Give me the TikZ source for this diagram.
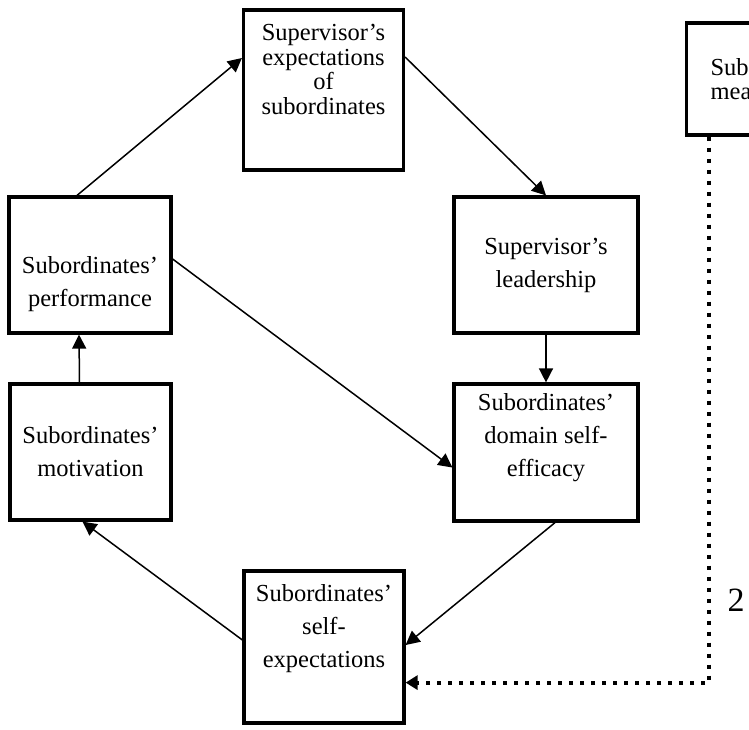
\documentclass[tikz,border=0pt]{standalone}
\usepackage{fontspec}
\setmainfont{Liberation Serif}
\usetikzlibrary{arrows.meta}

\begin{document}
\begin{tikzpicture}[x=1pt, y=-1pt,
	box/.style={draw, line width=3.2pt, align=center, inner sep=0pt, font=\fontsize{24.5}{33}\selectfont},
	link/.style={line width=1.5pt, -{Triangle[length=14pt, width=14pt]}},
	dotlink/.style={line width=4pt, dash pattern=on 4pt off 7pt, -{Triangle[length=12pt, width=14pt]}}]
	\useasboundingbox (0,0) rectangle (749,729);
	% the loop of six boxes
	\node[box, minimum width=160pt, minimum height=160pt, font=\fontsize{24.5}{24.5}\selectfont] (exp) at (323.5,90)
		{Supervisor’s\\expectations\\of\\subordinates\\[9pt]\strut};
	\node[box, minimum width=184pt, minimum height=136pt] (lead) at (546,265) {Supervisor’s\\leadership};
	\node[box, minimum width=184pt, minimum height=137pt] (eff) at (546,452.5)
		{Subordinates’\\domain self-\\efficacy\\[-8pt]\strut};
	\node[box, minimum width=160pt, minimum height=152pt] (selfexp) at (324,647)
		{Subordinates’\\self-\\expectations\\\strut};
	\node[box, minimum width=161pt, minimum height=136pt] (motiv) at (90.5,452) {Subordinates’\\motivation};
	\node[box, minimum width=162pt, minimum height=136pt] (perf) at (90,265) {\strut\\Subordinates’\\performance};
	% box cut off at the right edge
	\node[box, minimum height=112pt, text width=120pt, inner xsep=24pt, align=left, anchor=west,
		font=\fontsize{24.5}{24.5}\selectfont] (mean) at (685,79) {Sub\\mea};
	\node[font=\fontsize{34}{38}\selectfont] (two) at (736,600) {2};
	% arrows
	\draw[link] ([xshift=-13pt]perf.north) -- ([yshift=32pt]exp.west);
	\draw[link] ([yshift=33pt]exp.east) -- (lead.north);
	\draw[link] (lead) -- (eff);
	\draw[link] ([yshift=6pt]perf.east) -- ([yshift=-15pt]eff.west);
	\draw[link] ([xshift=9pt]eff.south) -- ([yshift=2pt]selfexp.east);
	\draw[link] ([yshift=7pt]selfexp.west) -- ([xshift=-8pt]motiv.south);
	\draw[link] ([xshift=-11pt]motiv.north) -- ([xshift=-11pt]perf.south);
	\draw[dotlink] ([xshift=24pt]mean.south west) |- ([yshift=42pt]selfexp.south east);
\end{tikzpicture}
\end{document}
